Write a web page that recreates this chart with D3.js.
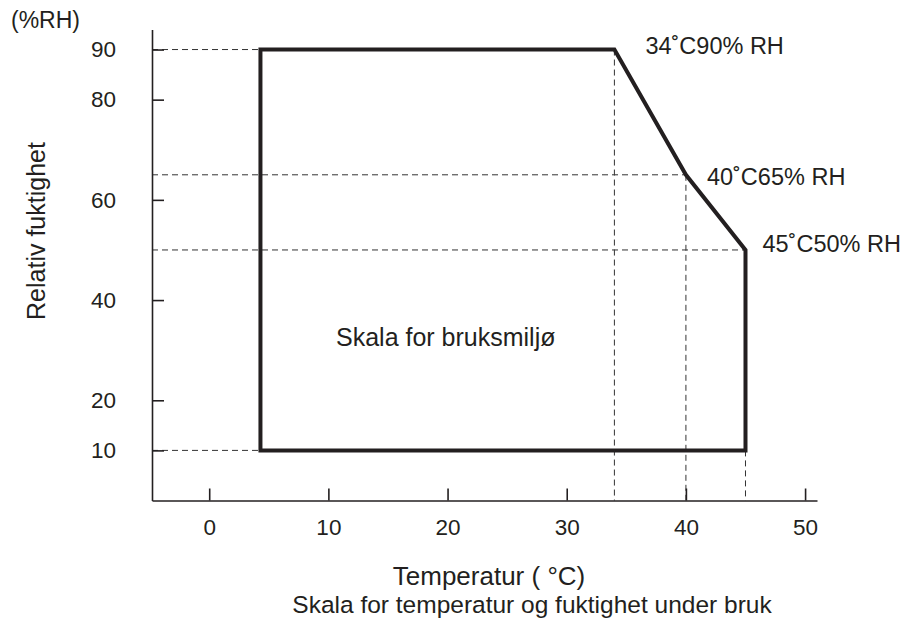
<!DOCTYPE html>
<html>
<head>
<meta charset="utf-8">
<script src="https://cdn.jsdelivr.net/npm/d3@7"></script>
<style>
  html, body { margin: 0; padding: 0; background: #ffffff; }
  svg { display: block; }
  text { font-family: "Liberation Sans", Arial, Helvetica, sans-serif; fill: #231f20; }
</style>
</head>
<body>
<svg id="chart" width="907" height="620"></svg>
<script>
// Operating envelope: temperature (°C) vs relative humidity (%RH)
const envTemp = [4.3, 4.3, 34, 40, 45, 45];
const envHum  = [10, 90, 90, 65, 50, 10];

// Labelled corner points
const cornerTemp = [34, 40, 45];
const cornerHum  = [90, 65, 50];
const cornerText = ["34˚C90% RH", "40˚C65% RH", "45˚C50% RH"];

// Axis ticks
const xTicks = [0, 10, 20, 30, 40, 50];
const yTicks = [10, 20, 40, 60, 80, 90];

const ink = "#231f20";
const svg = d3.select("#chart");

const x = d3.scaleLinear().domain([-4.8, 51]).range([152, 817]);
const y = d3.scaleLinear().domain([0, 94]).range([500.5, 29.5]);

// Dashed reference lines
const guides = svg.append("g")
  .attr("fill", "none")
  .attr("stroke", "#333333")
  .attr("stroke-width", 1)
  .attr("stroke-dasharray", "6,4");

// horizontal guides from the humidity axis
const hGuides = [
  { h: envHum[1], t: envTemp[1] },
  { h: envHum[0], t: envTemp[0] },
  { h: cornerHum[1], t: cornerTemp[1] },
  { h: cornerHum[2], t: cornerTemp[2] }
];
guides.selectAll("line.h").data(hGuides).join("line")
  .attr("class", "h")
  .attr("x1", x(-4.8)).attr("x2", d => x(d.t))
  .attr("y1", d => y(d.h)).attr("y2", d => y(d.h));

// vertical guides down to the temperature axis
const vGuides = [
  { t: cornerTemp[0], h: cornerHum[0] },
  { t: cornerTemp[1], h: cornerHum[1] },
  { t: envTemp[5], h: envHum[5] }
];
guides.selectAll("line.v").data(vGuides).join("line")
  .attr("class", "v")
  .attr("x1", d => x(d.t)).attr("x2", d => x(d.t))
  .attr("y1", d => y(d.h)).attr("y2", y(0));

// Envelope outline
const pts = envTemp.map((t, i) => [x(t), y(envHum[i])]);
svg.append("path")
  .attr("d", d3.line()(pts) + "Z")
  .attr("fill", "none")
  .attr("stroke", ink)
  .attr("stroke-width", 4)
  .attr("stroke-linejoin", "miter");

// Axes with inward ticks
const xAxis = svg.append("g")
  .attr("transform", `translate(0,${y(0)})`)
  .call(d3.axisBottom(x).tickValues(xTicks).tickFormat(d3.format("d"))
    .tickSizeInner(-12).tickSizeOuter(0).tickPadding(19));
const yAxis = svg.append("g")
  .attr("transform", `translate(${x(-4.8)},0)`)
  .call(d3.axisLeft(y).tickValues(yTicks).tickFormat(d3.format("d"))
    .tickSizeInner(-12).tickSizeOuter(0).tickPadding(36));

[xAxis, yAxis].forEach(g => {
  g.select(".domain").attr("stroke", ink).attr("stroke-width", 1.6);
  g.selectAll(".tick line").attr("stroke", ink).attr("stroke-width", 1.6);
  g.selectAll(".tick text")
    .attr("font-family", "'Liberation Sans', Arial, sans-serif")
    .attr("font-size", 22.5)
    .attr("fill", ink);
});

// Corner annotations
const labelOffset = [[31, 4], [21, 10], [17, 2]];
svg.selectAll("text.corner").data(cornerText).join("text")
  .attr("class", "corner")
  .attr("x", (d, i) => x(cornerTemp[i]) + labelOffset[i][0])
  .attr("y", (d, i) => y(cornerHum[i]) + labelOffset[i][1])
  .attr("font-size", 23.5)
  .text(d => d);

// Region label
svg.append("text")
  .attr("x", 336).attr("y", 346)
  .attr("font-size", 25)
  .text("Skala for bruksmiljø");

// Axis titles
svg.append("text")
  .attr("x", 11).attr("y", 28)
  .attr("font-size", 23)
  .text("(%RH)");

svg.append("text")
  .attr("transform", "translate(45,231) rotate(-90)")
  .attr("text-anchor", "middle")
  .attr("font-size", 25)
  .text("Relativ fuktighet");

svg.append("text")
  .attr("x", 489).attr("y", 585)
  .attr("text-anchor", "middle")
  .attr("font-size", 26)
  .text("Temperatur ( °C)");

svg.append("text")
  .attr("x", 532).attr("y", 613)
  .attr("text-anchor", "middle")
  .attr("font-size", 24.5)
  .text("Skala for temperatur og fuktighet under bruk");
</script>
</body>
</html>
